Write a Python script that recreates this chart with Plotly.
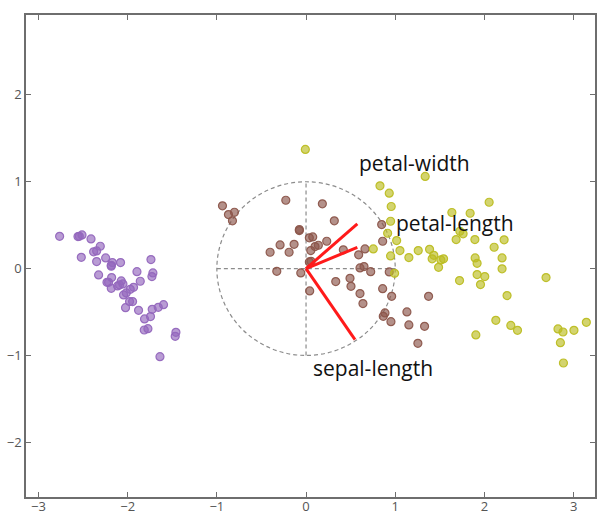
import plotly.graph_objects as go

# PCA scores (PC1, PC2) for the three iris species
setosa_x = [-2.763, -2.557, -2.542, -2.512, -2.411, -2.307, -2.382, -2.348, -2.520, -2.247,
            -2.348, -2.172, -2.080, -1.739, -2.184, -2.184, -1.896, -1.717, -1.728, -2.326,
            -2.180, -2.232, -2.214, -2.072, -2.053, -1.859, -2.113, -2.091, -2.184, -1.934,
            -1.971, -2.016, -2.046, -1.979, -1.945, -2.024, -1.878, -1.725, -1.657, -1.598,
            -1.744, -1.811, -1.773, -1.814, -1.459, -1.467, -1.638]
setosa_y = [0.372, 0.369, 0.372, 0.388, 0.342, 0.257, 0.193, 0.204, 0.130, 0.123,
            0.081, 0.069, 0.069, 0.104, 0.027, 0.038, -0.035, -0.050, -0.092, -0.073,
            -0.104, -0.158, -0.158, -0.142, -0.176, -0.146, -0.199, -0.188, -0.227, -0.216,
            -0.239, -0.280, -0.303, -0.380, -0.380, -0.450, -0.481, -0.469, -0.446, -0.415,
            -0.553, -0.580, -0.692, -0.707, -0.734, -0.780, -1.014]

versicolor_x = [-0.937, -0.870, -0.803, -0.825, -0.227, 0.183, 0.317, -0.075, -0.075, 0.037,
                0.075, 0.232, 0.138, 0.101, 0.053, -0.291, -0.134, -0.403, -0.190, 0.418,
                0.661, 0.590, 0.848, 0.859, 0.037, 0.056, -0.328, -0.059, 0.605, 0.650,
                0.725, 0.933, 0.493, 0.333, 0.504, 0.859, 0.960, 0.605, 0.638, 0.041,
                1.374, 0.885, 0.866, 1.131, 0.952, 1.153, 1.329, 1.254]
versicolor_y = [0.723, 0.622, 0.649, 0.550, 0.787, 0.746, 0.550, 0.438, 0.450, 0.354,
                0.365, 0.315, 0.269, 0.254, 0.207, 0.273, 0.280, 0.188, 0.188, 0.216,
                0.227, 0.158, 0.507, 0.315, 0.077, 0.084, -0.031, -0.050, 0.008, 0.023,
                -0.035, -0.038, -0.112, -0.150, -0.204, -0.231, -0.319, -0.288, -0.403, -0.257,
                -0.319, -0.511, -0.550, -0.499, -0.611, -0.649, -0.665, -0.861]

virginica_x = [-0.008, 1.336, 0.829, 0.933, 0.955, 0.948, 0.915, 1.016, 0.754, 1.053,
               0.948, 1.153, 1.258, 1.385, 1.433, 1.414, 1.512, 1.542, 1.486, 0.993,
               1.635, 1.840, 1.725, 1.761, 1.683, 1.893, 1.896, 1.918, 1.918, 1.956,
               1.721, 1.904, 2.053, 2.221, 2.109, 2.198, 2.198, 2.004, 2.691, 2.254,
               2.128, 2.296, 2.371, 2.825, 2.881, 3.004, 3.143, 2.852, 2.886]
virginica_y = [1.372, 1.061, 0.953, 0.868, 0.715, 0.545, 0.407, 0.323, 0.227, 0.207,
               0.146, 0.127, 0.207, 0.222, 0.153, 0.112, 0.100, 0.112, 0.015, -0.054,
               0.646, 0.637, 0.430, 0.400, 0.334, 0.334, 0.123, 0.061, -0.069, -0.184,
               -0.138, -0.764, 0.764, 0.331, 0.246, 0.123, -0.003, -0.092, -0.104, -0.311,
               -0.596, -0.654, -0.711, -0.695, -0.730, -0.711, -0.619, -0.853, -1.087]

# Feature loadings (arrow tips) and where their names are written
features = ["petal-width", "petal-length", "sepal-length"]
loading_x = [0.575, 0.575, 0.549]
loading_y = [0.515, 0.245, -0.818]
label_x = [1.22, 1.67, 0.75]
label_y = [1.22, 0.53, -1.15]

x_ticks = [-3, -2, -1, 0, 1, 2, 3]
y_ticks = [-2, -1, 0, 1, 2]

groups = [
    (setosa_x, setosa_y, (148, 103, 189)),
    (versicolor_x, versicolor_y, (140, 86, 75)),
    (virginica_x, virginica_y, (188, 189, 34)),
]

fig = go.Figure()

# unit correlation circle with dashed axes through the origin
grid_style = dict(color="#8c8c8c", width=1.2, dash="4px,3px")
fig.add_shape(type="circle", x0=-1, y0=-1, x1=1, y1=1, xref="x", yref="y",
              line=grid_style, layer="below")
fig.add_shape(type="line", x0=-1, y0=0, x1=1, y1=0, line=grid_style, layer="below")
fig.add_shape(type="line", x0=0, y0=-1, x1=0, y1=1, line=grid_style, layer="below")

for xs, ys, (r, g, b) in groups:
    fig.add_trace(go.Scatter(
        x=xs, y=ys, mode="markers",
        marker=dict(size=8, color=f"rgba({r},{g},{b},0.65)",
                    line=dict(color=f"rgba({r},{g},{b},0.95)", width=1.2)),
        showlegend=False, hoverinfo="skip",
    ))

for lx, ly in zip(loading_x, loading_y):
    fig.add_trace(go.Scatter(
        x=[0, lx], y=[0, ly], mode="lines",
        line=dict(color="#ff1a1a", width=3),
        showlegend=False, hoverinfo="skip",
    ))

for name, tx, ty in zip(features, label_x, label_y):
    fig.add_annotation(x=tx, y=ty, text=name, showarrow=False,
                       xanchor="center", yanchor="middle",
                       font=dict(family="Open Sans", size=21, color="#111111"))

axis_common = dict(
    showgrid=False, zeroline=False, showline=True, linecolor="#6e6e6e", linewidth=1.5,
    mirror="allticks", ticks="inside", ticklen=5, tickwidth=1, tickcolor="#6e6e6e",
    tickfont=dict(family="Open Sans", size=13, color="#555555"),
    automargin=False,
)

fig.update_layout(
    width=597, height=514,
    margin=dict(l=26, r=2, t=15, b=17),
    paper_bgcolor="white", plot_bgcolor="white",
    xaxis=dict(range=[-3.14, 3.24], tickvals=x_ticks, ticklabelstandoff=-3, **axis_common),
    yaxis=dict(range=[-2.63, 2.92], tickvals=y_ticks, **axis_common),
)

fig.write_html("out.html")
